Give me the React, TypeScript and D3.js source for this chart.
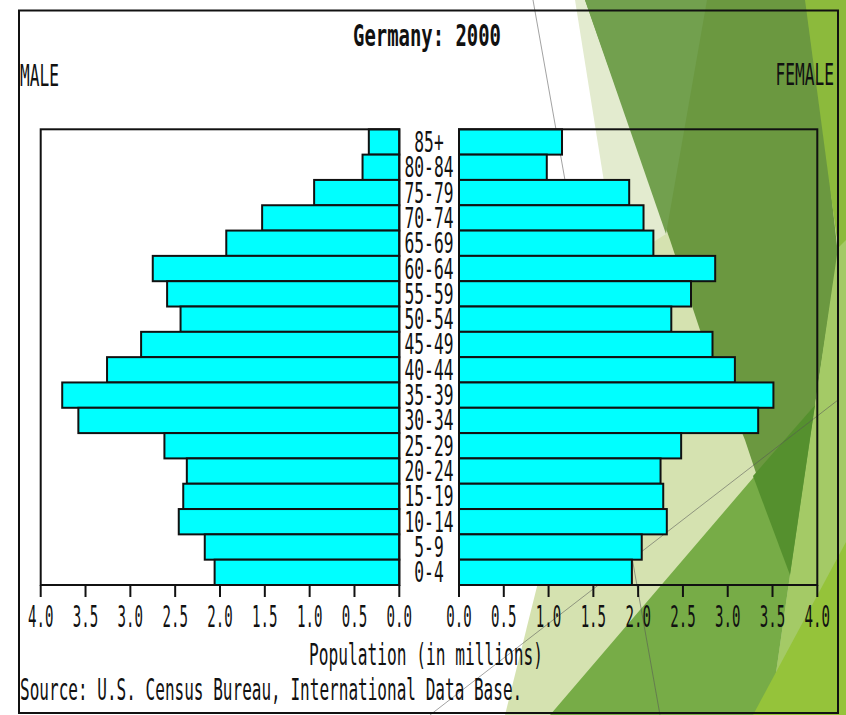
import React from "react";
import * as d3 from "d3";

const ageGroups = ["85+", "80-84", "75-79", "70-74", "65-69", "60-64", "55-59", "50-54", "45-49", "40-44", "35-39", "30-34", "25-29", "20-24", "15-19", "10-14", "5-9", "0-4"];
const maleValues = [0.34, 0.41, 0.95, 1.53, 1.93, 2.75, 2.59, 2.44, 2.88, 3.26, 3.76, 3.58, 2.62, 2.37, 2.41, 2.46, 2.17, 2.06];
const femaleValues = [1.15, 0.98, 1.90, 2.06, 2.17, 2.86, 2.59, 2.37, 2.83, 3.08, 3.51, 3.34, 2.48, 2.25, 2.28, 2.32, 2.04, 1.93];
const tickValues = [0, 0.5, 1, 1.5, 2, 2.5, 3, 3.5, 4];

const title = "Germany: 2000";
const maleLabel = "MALE";
const femaleLabel = "FEMALE";
const xAxisTitle = "Population (in millions)";
const sourceText = "Source: U.S. Census Bureau, International Data Base.";

// decorative slide background shapes
const bgShapes: { pts: [number, number][]; fill: string }[] = [
  { pts: [[575, 0], [846, 0], [846, 420], [642, 420]], fill: "#e3ebcf" },
  { pts: [[505, 715], [617, 265], [846, 120], [846, 715]], fill: "#d5e2b0" },
  { pts: [[585, 0], [810, 0], [838, 255], [815, 405], [790, 575], [745, 440], [700, 330], [670, 240]], fill: "#6b9840" },
  { pts: [[585, 0], [707, 0], [666, 234]], fill: "#72a04e" },
  { pts: [[805, 0], [846, 0], [846, 250], [838, 248]], fill: "#8cba3c" },
  { pts: [[838, 248], [846, 240], [846, 715], [770, 715], [790, 575], [815, 405]], fill: "#a4ca66" },
  { pts: [[550, 715], [753, 478], [815, 405], [790, 575], [770, 715]], fill: "#77ac47" },
  { pts: [[753, 715], [846, 542], [846, 715]], fill: "#95c33a" },
  { pts: [[753, 476], [815, 405], [790, 575]], fill: "#55902e" },
];
const bgLines: [number, number, number, number][] = [
  [533, 0, 660, 715],
  [430, 715, 838, 400],
];

const FONT = "'DejaVu Sans Mono', monospace";

function T({ x, y, text, sx = 0.54, size = 30, anchor = "start", weight = "normal" }: any) {
  return (
    <text
      transform={`translate(${x},${y}) scale(${sx},1)`}
      fontFamily={FONT}
      fontSize={size}
      fontWeight={weight}
      textAnchor={anchor}
      fill="#111"
    >
      {text}
    </text>
  );
}

export default function App() {
  const xMale = d3.scaleLinear().domain([0, 4]).range([399.3, 40.7]);
  const xFemale = d3.scaleLinear().domain([0, 4]).range([459, 817.3]);
  const y = d3.scaleBand<string>().domain(ageGroups).range([129.3, 585]).padding(0);
  const bw = y.bandwidth();
  const line = d3.line();
  const stroke = "#111";

  return (
    <svg
      width={846}
      height={715}
      style={{ position: "fixed", left: 0, top: 0, background: "#fff" }}
    >
      {bgShapes.map((s, i) => (
        <path key={"bg" + i} d={line(s.pts) + "Z"} fill={s.fill} />
      ))}
      {bgLines.map((l, i) => (
        <line key={"bl" + i} x1={l[0]} y1={l[1]} x2={l[2]} y2={l[3]} stroke="#555" strokeOpacity={0.55} strokeWidth={1} />
      ))}

      {/* outer frame */}
      <rect x={19} y={10.5} width={819} height={702.5} fill="none" stroke={stroke} strokeWidth={2} />

      {/* bars */}
      {ageGroups.map((g, i) => (
        <rect
          key={"m" + g}
          x={xMale(maleValues[i])}
          y={y(g)}
          width={xMale(0) - xMale(maleValues[i])}
          height={bw}
          fill="#00ffff"
          stroke={stroke}
          strokeWidth={2}
        />
      ))}
      {ageGroups.map((g, i) => (
        <rect
          key={"f" + g}
          x={xFemale(0)}
          y={y(g)}
          width={xFemale(femaleValues[i]) - xFemale(0)}
          height={bw}
          fill="#00ffff"
          stroke={stroke}
          strokeWidth={2}
        />
      ))}

      {/* plot boxes */}
      <rect x={xMale(4)} y={129.3} width={xMale(0) - xMale(4)} height={585 - 129.3} fill="none" stroke={stroke} strokeWidth={2} />
      <rect x={xFemale(0)} y={129.3} width={xFemale(4) - xFemale(0)} height={585 - 129.3} fill="none" stroke={stroke} strokeWidth={2} />

      {/* ticks */}
      {tickValues.map((t) => (
        <g key={"tm" + t}>
          <line x1={xMale(t)} x2={xMale(t)} y1={585} y2={597} stroke={stroke} strokeWidth={2} />
          <T x={xMale(t)} y={627} text={t.toFixed(1)} sx={0.47} anchor="middle" />
        </g>
      ))}
      {tickValues.map((t) => (
        <g key={"tf" + t}>
          <line x1={xFemale(t)} x2={xFemale(t)} y1={585} y2={597} stroke={stroke} strokeWidth={2} />
          <T x={xFemale(t)} y={627} text={t.toFixed(1)} sx={0.47} anchor="middle" />
        </g>
      ))}

      {/* age labels */}
      {ageGroups.map((g) => (
        <T key={"a" + g} x={429} y={(y(g) as number) + bw / 2 + 10} text={g} size={28} sx={0.58} anchor="middle" />
      ))}

      <T x={427} y={46} text={title} sx={0.63} anchor="middle" weight="bold" />
      <T x={20} y={86} text={maleLabel} />
      <T x={834} y={85} text={femaleLabel} anchor="end" />
      <T x={426} y={665} text={xAxisTitle} anchor="middle" />
      <T x={20} y={700} text={sourceText} sx={0.535} />
    </svg>
  );
}
